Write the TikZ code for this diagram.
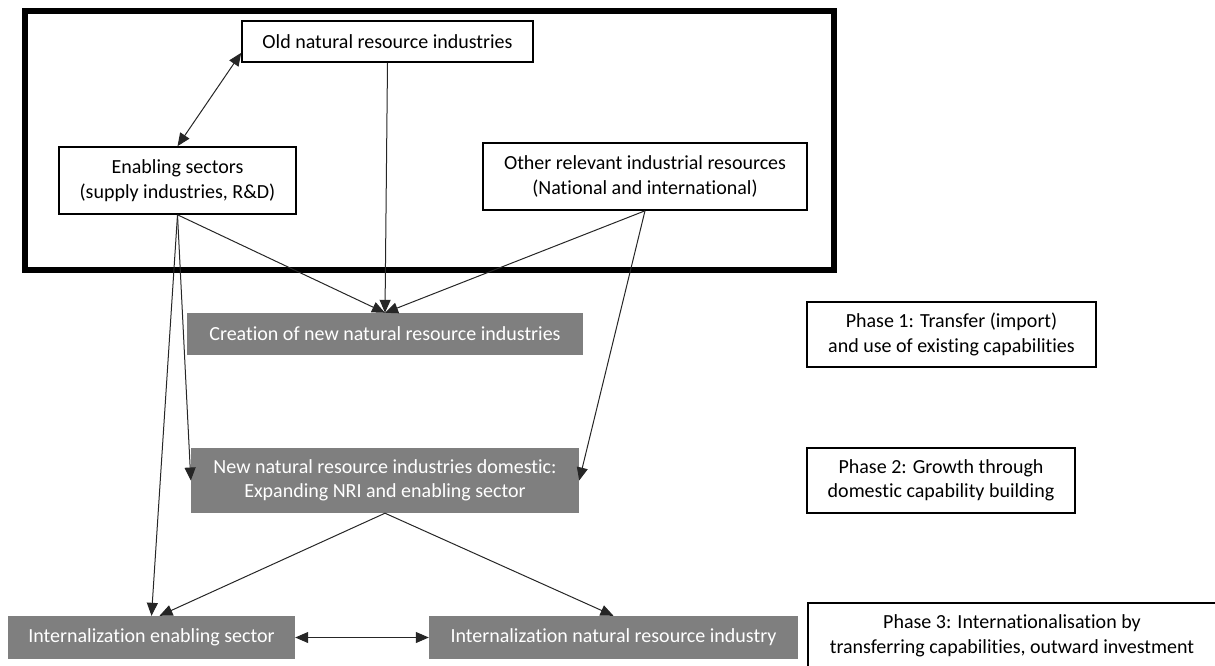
\documentclass[tikz,border=0pt]{standalone}
\usepackage{fontspec}
\setmainfont{Carlito}[Ligatures={NoCommon,NoContextual,NoRequired}]
\usetikzlibrary{arrows.meta}
\definecolor{boxgray}{RGB}{127,127,127}
\tikzset{plain box/.style={
    draw=black, line width=1.6pt, fill=white,
    align=center, inner sep=0pt,
    font=\fontsize{20}{24.5}\selectfont,
  },
  shaded box/.style={
    fill=boxgray, text=white,
    align=center, inner sep=0pt,
    font=\fontsize{20}{24.5}\selectfont,
  },
  link/.style={draw=black!85, line width=1pt, ->},
  >={Triangle[length=13pt,width=11pt]},
}

\begin{document}
\begin{tikzpicture}[x=1pt, y=-1pt]
\useasboundingbox (0,0) rectangle (1215,666);
\draw[line width=6pt] (24.5,11) rectangle (833.5,270);
\node[name=old, plain box, minimum width=291pt, minimum height=41pt] at (387.5,41.5)
  {Old natural resource industries};
\node[name=enabling, plain box, minimum width=237pt, minimum height=67pt] at (177.5,180.5)
  {Enabling sectors\\(supply industries, R\&D)};
\node[name=other, plain box, minimum width=324pt, minimum height=67pt] at (645,176.5)
  {Other relevant industrial resources\\(National and international)};
\node[name=creation, shaded box, minimum width=396pt, minimum height=42pt] at (385,334)
  {Creation of new natural resource industries};
\node[name=domestic, shaded box, minimum width=388pt, minimum height=65pt] at (385,480.5)
  {New natural resource industries domestic:\\Expanding NRI and enabling sector};
\node[name=intlE, shaded box, minimum width=287pt, minimum height=43pt] at (151.5,637.5)
  {Internalization enabling sector};
\node[name=intlN, shaded box, minimum width=369pt, minimum height=43pt] at (613.5,637.5)
  {Internalization natural resource industry};
\node[name=phase1, plain box, minimum width=289pt, minimum height=65pt] at (951.5,334.5)
  {Phase 1: Transfer (import)\\and use of existing capabilities};
\node[name=phase2, plain box, minimum width=268pt, minimum height=65pt] at (941,480.5)
  {Phase 2: Growth through\\domestic capability building};
\node[name=phase3, plain box, minimum width=408pt, minimum height=66pt] at (1012,636)
  {Phase 3: Internationalisation by\\transferring capabilities, outward investment};
\foreach \from/\to in
  {old.south/creation.north, enabling.south/creation.north, other.south/creation.north,
   enabling.south/domestic.west, other.south/domestic.east,
   enabling.south/intlE.north, domestic.south/intlN.north}
    \draw[link] (\from) -- (\to);
\draw[link] (domestic.south) -- ([xshift=8pt]intlE.north);
\draw[link, <->] (enabling.north) -- ([yshift=10pt]old.south west);
\draw[link, <->] (intlE.east) -- (intlN.west);
\end{tikzpicture}
\end{document}
